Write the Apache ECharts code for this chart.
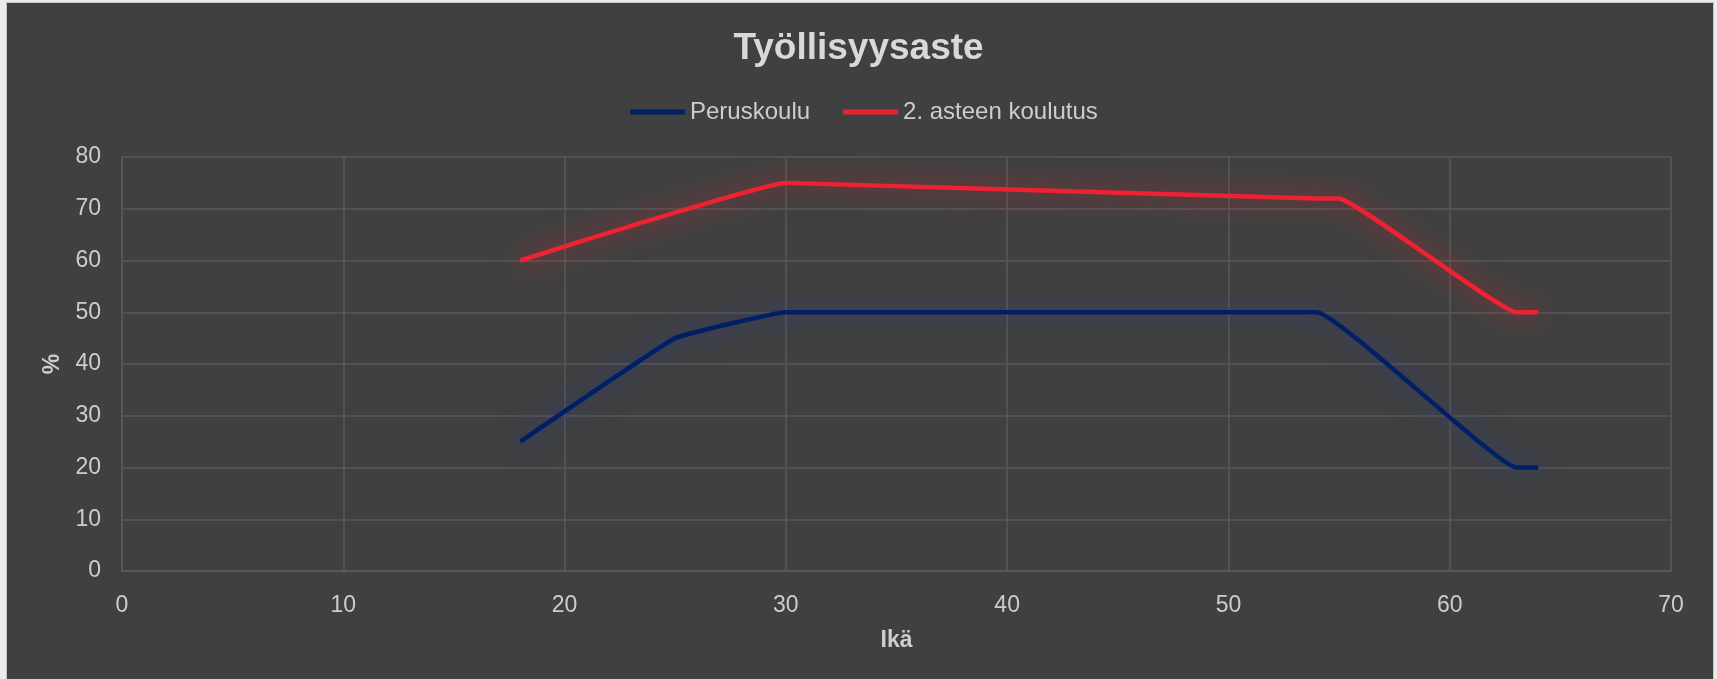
<!DOCTYPE html>
<html>
<head>
<meta charset="utf-8">
<script src="https://cdn.jsdelivr.net/npm/echarts@6/dist/echarts.min.js"></script>
<style>
  html, body { margin: 0; padding: 0; background: #ececec; overflow: hidden; }
  #tausta {
    position: absolute; left: 6px; top: 2px; width: 1708px; height: 680px;
    background: #404040; border: 1px solid #c4c4c4; box-sizing: border-box;
  }
  #kaavio { position: absolute; left: 0; top: 0; width: 1717px; height: 679px; }
</style>
</head>
<body>
<div id="tausta"></div>
<div id="kaavio"></div>
<script>
// ikä ja työllisyysaste (%)
const ikaPerus = [18, 25, 30, 54, 63, 64];
const arvotPerus = [25, 45, 50, 50, 20, 20];
const ikaToinen = [18, 30, 54, 55, 63, 64];
const arvotToinen = [60, 75, 72, 72, 50, 50];

const xMin = 0, xMax = 70, xVali = 10;
const yMin = 0, yMax = 80, yVali = 10;

const tekstiVari = "#cdcdcd";
const viivaVari = "#595959";

function pisteet(x, y) {
    return x.map((v, i) => [v, y[i]]);
}

const kaavio = echarts.init(document.getElementById("kaavio"), null, { renderer: "canvas" });

const opciones = {
    backgroundColor: "transparent",
    animation: false,
    textStyle: { fontFamily: "Liberation Sans, Arial, sans-serif" },
    title: {
        text: "Työllisyysaste",
        left: "center",
        top: 25,
        textStyle: { color: "#d9d9d9", fontSize: 37, fontWeight: "bold" }
    },
    legend: {
        left: 625,
        top: 94,
        itemWidth: 55,
        itemHeight: 5,
        itemGap: 33,
        icon: "rect",
        textStyle: { color: tekstiVari, fontSize: 24, lineHeight: 26 },
        data: ["Peruskoulu", "2. asteen koulutus"]
    },
    grid: { left: 122, right: 46, top: 157, bottom: 108, containLabel: false },
    xAxis: {
        type: "value",
        min: xMin, max: xMax, interval: xVali,
        name: "Ikä",
        nameLocation: "middle",
        nameGap: 58,
        nameTextStyle: { color: tekstiVari, fontSize: 23, fontWeight: "bold" },
        axisLine: { show: true, lineStyle: { color: viivaVari, width: 2 } },
        axisTick: { show: false },
        axisLabel: { color: tekstiVari, fontSize: 23, margin: 23 },
        splitLine: { show: true, lineStyle: { color: viivaVari, width: 1.5 } }
    },
    yAxis: {
        type: "value",
        min: yMin, max: yMax, interval: yVali,
        name: "%",
        nameLocation: "middle",
        nameGap: 55,
        nameRotate: 90,
        nameTextStyle: { color: tekstiVari, fontSize: 23, fontWeight: "bold" },
        axisLine: { show: true, lineStyle: { color: viivaVari, width: 1.5 } },
        axisTick: { show: false },
        axisLabel: { color: tekstiVari, fontSize: 23, margin: 21, padding: [6, 0, 0, 0] },
        splitLine: { show: true, lineStyle: { color: viivaVari, width: 1.5 } }
    },
    series: [
        {
            name: "Peruskoulu",
            type: "line",
            data: pisteet(ikaPerus, arvotPerus),
            smooth: 0.08,
            showSymbol: false,
            color: "#002066",
            lineStyle: {
                width: 4.5, color: "#002066",
                shadowColor: "rgba(40, 60, 160, 0.85)", shadowBlur: 26
            }
        },
        {
            name: "2. asteen koulutus",
            type: "line",
            data: pisteet(ikaToinen, arvotToinen),
            smooth: 0.08,
            showSymbol: false,
            color: "#ee2233",
            lineStyle: {
                width: 4.5, color: "#ee2233",
                shadowColor: "rgba(238, 34, 51, 0.8)", shadowBlur: 26
            }
        }
    ]
};

kaavio.setOption(opciones);
</script>
</body>
</html>
